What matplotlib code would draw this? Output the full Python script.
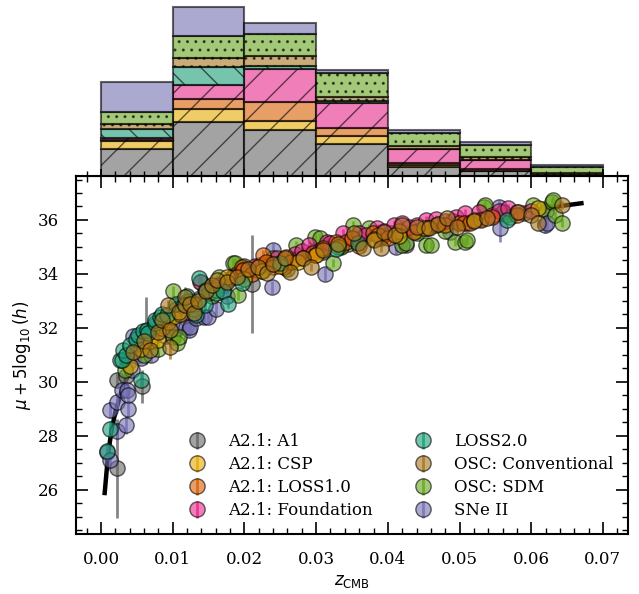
import matplotlib
matplotlib.use('Agg')
import matplotlib.pyplot as plt
from matplotlib.colors import to_rgba
from matplotlib.ticker import MultipleLocator, FormatStrFormatter
import numpy as np

plt.rcParams['font.family'] = 'serif'
plt.rcParams['font.size'] = 12
plt.rcParams['hatch.linewidth'] = 1.0

LABELS = ['A2.1: A1', 'A2.1: CSP', 'A2.1: LOSS1.0', 'A2.1: Foundation',
          'LOSS2.0', 'OSC: Conventional', 'OSC: SDM', 'SNe II']
COLORS = ['#666666', '#e6ab02', '#d95f02', '#e7298a',
          '#1b9e77', '#a6761d', '#66a61e', '#7570b3']
HATCHES = ['/', '/', '/', '/', '\\', '..', '..', '']

# redshift bins of the top histogram
bin_edges = [0.0, 0.01, 0.02, 0.03, 0.04, 0.05, 0.06, 0.07]
counts_a1 = [20, 40, 34, 24, 7, 4, 1]
counts_csp = [6, 10, 7, 6, 1, 0, 0]
counts_loss1 = [1, 7, 14, 6, 2, 1, 0]
counts_found = [1, 11, 25, 18, 10, 7, 0]
counts_loss2 = [7, 13, 2, 2, 0, 0, 0]
counts_conv = [4, 7, 7, 3, 2, 2, 1]
counts_sdm = [9, 16, 17, 18, 10, 9, 5]
counts_sne2 = [22, 22, 8, 2, 2, 2, 1]

# Hubble diagram points: z_CMB, mu + 5log10(h), error
pts_a1 = np.array([
    [0.0022, 26.80, 1.84], [0.0022, 30.07, 0.25], [0.0035, 30.20, 0.30],
    [0.0045, 30.90, 0.30], [0.0048, 31.10, 0.35], [0.0057, 29.83, 0.60],
    [0.0062, 31.90, 1.23], [0.0070, 31.70, 0.30], [0.0075, 32.10, 0.25],
    [0.0082, 31.95, 0.25], [0.0090, 32.30, 0.20], [0.0095, 32.00, 0.20],
    [0.0105, 32.70, 0.20], [0.0117, 32.48, 1.05], [0.0125, 33.00, 0.20],
    [0.0130, 32.70, 0.20], [0.0138, 33.10, 0.20], [0.0145, 33.40, 0.20],
    [0.0150, 33.50, 0.20], [0.0161, 33.55, 0.18], [0.0172, 33.60, 0.20],
    [0.0178, 33.80, 0.20], [0.0185, 33.95, 0.20], [0.0198, 34.00, 0.20],
    [0.0205, 34.10, 0.20], [0.0210, 33.62, 1.82], [0.0225, 34.20, 0.20],
    [0.0232, 34.30, 0.18], [0.0240, 34.40, 0.18], [0.0258, 34.35, 0.15],
    [0.0268, 34.50, 0.15], [0.0275, 34.60, 0.15], [0.0292, 34.75, 0.15],
    [0.0300, 34.90, 0.15], [0.0310, 34.80, 0.15], [0.0335, 35.05, 0.15],
    [0.0345, 35.10, 0.15], [0.0360, 35.20, 0.15], [0.0390, 35.35, 0.15],
    [0.0405, 35.50, 0.15], [0.0420, 35.55, 0.15], [0.0440, 35.60, 0.15],
    [0.0455, 35.70, 0.15], [0.0490, 35.95, 0.15], [0.0510, 35.90, 0.15],
    [0.0530, 36.05, 0.15], [0.0565, 36.20, 0.15], [0.0590, 36.25, 0.15],
    [0.0620, 36.35, 0.15],
])
pts_csp = np.array([
    [0.0040, 30.60, 0.25], [0.0055, 31.20, 0.25], [0.0068, 31.50, 0.20],
    [0.0080, 31.56, 0.20], [0.0085, 32.00, 0.20], [0.0092, 32.30, 0.20],
    [0.0094, 32.23, 0.20], [0.0100, 32.40, 0.20], [0.0110, 32.50, 0.20],
    [0.0120, 32.95, 0.20], [0.0130, 32.90, 0.18], [0.0160, 33.40, 0.18],
    [0.0175, 33.90, 0.18], [0.0200, 33.80, 0.15], [0.0225, 34.10, 0.15],
    [0.0250, 34.30, 0.15], [0.0275, 34.45, 0.15], [0.0300, 34.70, 0.15],
    [0.0330, 35.00, 0.15], [0.0380, 35.30, 0.15], [0.0415, 35.40, 0.15],
    [0.0450, 35.70, 0.15], [0.0520, 36.00, 0.15], [0.0610, 36.43, 0.15],
])
pts_loss1 = np.array([
    [0.0105, 32.70, 0.20], [0.0150, 33.30, 0.20], [0.0185, 33.90, 0.18],
    [0.0196, 34.27, 0.18], [0.0198, 34.15, 0.18], [0.0210, 34.00, 0.18],
    [0.0221, 34.33, 0.18], [0.0226, 34.70, 0.18], [0.0230, 34.45, 0.15],
    [0.0240, 34.25, 0.15], [0.0255, 34.25, 0.15], [0.0258, 34.64, 0.15],
    [0.0265, 34.45, 0.15], [0.0281, 34.58, 0.15], [0.0295, 34.78, 0.15],
    [0.0298, 34.70, 0.15], [0.0310, 34.95, 0.15], [0.0328, 35.20, 0.15],
    [0.0342, 35.20, 0.15], [0.0350, 35.35, 0.15], [0.0360, 35.05, 0.15],
    [0.0379, 35.50, 0.15], [0.0386, 35.44, 0.15], [0.0400, 35.35, 0.15],
    [0.0415, 35.60, 0.15], [0.0437, 35.57, 0.15], [0.0455, 35.70, 0.15],
    [0.0467, 35.81, 0.15], [0.0480, 35.80, 0.15], [0.0499, 35.88, 0.15],
    [0.0506, 35.88, 0.15], [0.0515, 35.88, 0.15], [0.0530, 36.00, 0.15],
    [0.0545, 36.12, 0.15], [0.0580, 36.20, 0.15],
])
pts_found = np.array([
    [0.0138, 33.70, 0.18], [0.0165, 33.60, 0.18], [0.0190, 34.00, 0.18],
    [0.0200, 34.20, 0.18], [0.0215, 34.30, 0.15], [0.0235, 34.40, 0.15],
    [0.0245, 34.60, 0.15], [0.0255, 34.50, 0.15], [0.0270, 34.75, 0.15],
    [0.0280, 34.85, 0.15], [0.0290, 35.07, 0.15], [0.0305, 34.90, 0.15],
    [0.0315, 35.20, 0.15], [0.0320, 35.15, 0.15], [0.0337, 35.50, 0.15],
    [0.0350, 35.30, 0.15], [0.0360, 35.50, 0.15], [0.0370, 35.45, 0.15],
    [0.0385, 35.70, 0.15], [0.0395, 35.60, 0.15], [0.0409, 35.81, 0.15],
    [0.0420, 35.90, 0.15], [0.0430, 35.75, 0.15], [0.0440, 35.80, 0.15],
    [0.0453, 36.00, 0.15], [0.0467, 36.05, 0.15], [0.0480, 35.95, 0.15],
    [0.0495, 36.10, 0.15], [0.0508, 36.25, 0.15], [0.0527, 36.31, 0.15],
    [0.0545, 36.20, 0.15], [0.0555, 36.35, 0.15], [0.0568, 36.43, 0.15],
    [0.0580, 36.30, 0.15], [0.0600, 36.35, 0.15],
])
pts_loss2 = np.array([
    [0.0008, 27.42, 0.30], [0.0012, 28.26, 0.30], [0.0027, 30.81, 0.25],
    [0.0029, 30.81, 0.25], [0.0031, 31.19, 0.25], [0.0035, 31.00, 0.25],
    [0.0041, 31.37, 0.25], [0.0048, 31.60, 0.25], [0.0052, 31.74, 0.20],
    [0.0055, 30.07, 0.25], [0.0058, 31.90, 0.20], [0.0064, 31.93, 0.20],
    [0.0066, 31.80, 0.20], [0.0075, 32.17, 0.20], [0.0075, 32.30, 0.20],
    [0.0082, 32.40, 0.20], [0.0085, 32.50, 0.20], [0.0092, 32.48, 0.20],
    [0.0105, 32.90, 0.20], [0.0115, 32.90, 0.20], [0.0120, 33.20, 0.20],
    [0.0133, 32.48, 0.20], [0.0136, 33.84, 0.18], [0.0145, 32.85, 0.18],
    [0.0147, 33.40, 0.18], [0.0160, 33.30, 0.18], [0.0170, 33.35, 0.18],
    [0.0177, 32.90, 0.18], [0.0196, 33.65, 0.18], [0.0250, 34.40, 0.15],
    [0.0328, 34.92, 0.15], [0.0358, 35.14, 0.15], [0.0566, 36.00, 0.15],
])
pts_conv = np.array([
    [0.0045, 31.12, 0.25], [0.0060, 31.50, 0.25], [0.0068, 31.19, 0.25],
    [0.0080, 31.86, 0.20], [0.0085, 32.30, 0.20], [0.0094, 32.85, 0.20],
    [0.0096, 31.93, 0.20], [0.0096, 31.31, 0.45], [0.0108, 32.60, 0.20],
    [0.0117, 32.85, 0.20], [0.0117, 33.16, 0.20], [0.0124, 32.90, 0.20],
    [0.0129, 32.54, 0.20], [0.0135, 33.00, 0.20], [0.0147, 33.35, 0.18],
    [0.0155, 33.60, 0.18], [0.0161, 33.78, 0.18], [0.0175, 33.70, 0.18],
    [0.0190, 33.90, 0.18], [0.0205, 34.20, 0.15], [0.0219, 34.27, 0.15],
    [0.0231, 34.03, 0.15], [0.0240, 34.35, 0.15], [0.0256, 34.58, 0.15],
    [0.0263, 34.09, 0.15], [0.0281, 34.60, 0.15], [0.0293, 34.27, 0.15],
    [0.0309, 34.90, 0.15], [0.0330, 35.10, 0.15], [0.0353, 35.50, 0.15],
    [0.0365, 34.95, 0.15], [0.0381, 35.26, 0.15], [0.0390, 34.95, 0.15],
    [0.0395, 35.57, 0.15], [0.0410, 35.45, 0.15], [0.0420, 35.81, 0.15],
    [0.0441, 35.75, 0.15], [0.0457, 35.69, 0.15], [0.0470, 35.85, 0.15],
    [0.0483, 36.06, 0.15], [0.0497, 35.75, 0.15], [0.0520, 35.95, 0.15],
    [0.0538, 36.06, 0.15], [0.0582, 36.31, 0.15], [0.0600, 36.20, 0.15],
    [0.0610, 35.88, 0.15], [0.0643, 36.56, 0.15],
])
pts_sdm = np.array([
    [0.0034, 30.44, 0.30], [0.0060, 31.00, 0.25], [0.0080, 31.20, 0.25],
    [0.0101, 33.35, 0.20], [0.0101, 31.68, 0.20], [0.0106, 31.43, 0.20],
    [0.0108, 31.68, 0.20], [0.0120, 33.00, 0.20], [0.0130, 32.70, 0.20],
    [0.0140, 33.70, 0.18], [0.0155, 33.20, 0.18], [0.0165, 33.90, 0.18],
    [0.0184, 34.40, 0.18], [0.0187, 34.40, 0.18], [0.0191, 33.22, 0.18],
    [0.0200, 34.30, 0.15], [0.0225, 34.10, 0.15], [0.0240, 34.60, 0.15],
    [0.0260, 34.20, 0.15], [0.0272, 35.07, 0.15], [0.0298, 35.38, 0.15],
    [0.0305, 35.32, 0.15], [0.0323, 34.40, 0.15], [0.0335, 35.00, 0.15],
    [0.0351, 35.81, 0.15], [0.0374, 35.69, 0.15], [0.0390, 35.40, 0.15],
    [0.0420, 35.07, 0.15], [0.0425, 35.14, 0.15], [0.0440, 35.50, 0.15],
    [0.0453, 35.07, 0.15], [0.0460, 35.07, 0.15], [0.0480, 35.60, 0.15],
    [0.0494, 35.20, 0.15], [0.0508, 35.20, 0.15], [0.0510, 35.26, 0.15],
    [0.0534, 36.49, 0.15], [0.0536, 36.56, 0.15], [0.0560, 36.30, 0.15],
    [0.0570, 36.10, 0.15], [0.0603, 36.56, 0.15], [0.0615, 36.40, 0.15],
    [0.0629, 36.68, 0.15], [0.0631, 36.74, 0.15], [0.0633, 36.19, 0.15],
    [0.0643, 35.88, 0.15],
])
pts_sne2 = np.array([
    [0.0008, 27.40, 0.30], [0.0013, 27.10, 0.30], [0.0013, 28.96, 0.30],
    [0.0022, 28.16, 0.30], [0.0022, 29.27, 0.30], [0.0029, 29.70, 0.30],
    [0.0035, 28.40, 0.35], [0.0036, 29.70, 0.30], [0.0038, 29.00, 0.30],
    [0.0038, 29.50, 0.30], [0.0038, 30.70, 0.30], [0.0041, 30.80, 0.25],
    [0.0043, 30.44, 0.25], [0.0045, 31.70, 0.25], [0.0055, 30.90, 0.25],
    [0.0060, 31.40, 0.25], [0.0070, 31.00, 0.25], [0.0090, 31.70, 0.25],
    [0.0105, 31.95, 0.25], [0.0119, 32.05, 0.30], [0.0122, 31.93, 0.25],
    [0.0124, 32.05, 0.25], [0.0133, 32.36, 0.25], [0.0143, 32.40, 0.25],
    [0.0149, 32.42, 0.25], [0.0160, 32.70, 0.25], [0.0175, 33.20, 0.25],
    [0.0238, 33.50, 0.25], [0.0240, 34.90, 0.25], [0.0312, 34.00, 0.25],
    [0.0411, 35.00, 0.25], [0.0425, 35.07, 0.25], [0.0487, 35.57, 0.25],
    [0.0555, 36.49, 0.25], [0.0557, 35.69, 0.50], [0.0619, 35.80, 0.30],
    [0.0622, 35.88, 0.25],
])

# reference Hubble-law curve
curve_z = [0.0005, 0.001, 0.0015, 0.002, 0.003, 0.004, 0.005, 0.0065, 0.008,
           0.01, 0.0125, 0.015, 0.02, 0.025, 0.03, 0.035, 0.04, 0.045, 0.05,
           0.055, 0.06, 0.067]
curve_mu = [25.88, 27.38, 28.26, 28.89, 29.77, 30.39, 30.88, 31.45, 31.91,
            32.40, 32.89, 33.28, 33.92, 34.41, 34.82, 35.16, 35.46, 35.73,
            35.96, 36.18, 36.37, 36.62]

counts = [counts_a1, counts_csp, counts_loss1, counts_found,
          counts_loss2, counts_conv, counts_sdm, counts_sne2]
points = [pts_a1, pts_csp, pts_loss1, pts_found,
          pts_loss2, pts_conv, pts_sdm, pts_sne2]
# drawing order of the scatter series (legend keeps LABELS order)
draw_order = [0, 7, 6, 3, 2, 1, 4, 5]

W, H = 639, 594
fig = plt.figure(figsize=(W / 100, H / 100), dpi=100)
ax = fig.add_axes([76 / W, 1 - 534 / H, 552 / W, 358 / H])
ax_hist = fig.add_axes([76 / W, 1 - 176 / H, 552 / W, 176 / H], sharex=ax)

# stacked histogram
widths = np.diff(bin_edges)
bottom = np.zeros(len(widths))
for c, col, hat in zip(counts, COLORS, HATCHES):
    ax_hist.bar(bin_edges[:-1], c, width=widths, bottom=bottom, align='edge',
                color=col, edgecolor='k', hatch=hat, alpha=0.6, linewidth=1.5)
    bottom += np.array(c)
ax_hist.set_ylim(0, 131)
for s in ('left', 'top', 'right'):
    ax_hist.spines[s].set_visible(False)
ax_hist.spines['bottom'].set_linewidth(1.5)
ax_hist.tick_params(axis='x', which='both', direction='in', labelbottom=False)
ax_hist.tick_params(axis='x', which='major', length=5, width=1.2)
ax_hist.tick_params(axis='x', which='minor', length=3.5, width=1.0)
ax_hist.set_yticks([])

# Hubble diagram
ax.plot(curve_z, curve_mu, color='k', lw=3.2, zorder=1)
handles = [None] * len(LABELS)
for i in draw_order:
    p = points[i]
    handles[i] = ax.errorbar(p[:, 0], p[:, 1], yerr=p[:, 2], fmt='o',
                             mfc=to_rgba(COLORS[i], 0.6), mec=(0, 0, 0, 0.6),
                             ecolor=to_rgba(COLORS[i], 0.8), mew=1.0, ms=11,
                             elinewidth=2.0, zorder=2)

ax.legend(handles, LABELS, ncol=2, frameon=False, loc='lower right',
          fontsize=12, labelspacing=0.36, columnspacing=2.0,
          handletextpad=0.85)

ax.set_xlim(-0.0035, 0.0735)
ax.set_ylim(24.36, 37.63)
ax.xaxis.set_major_locator(MultipleLocator(0.01))
ax.xaxis.set_minor_locator(MultipleLocator(0.002))
ax.yaxis.set_major_locator(MultipleLocator(2))
ax.yaxis.set_minor_locator(MultipleLocator(0.5))
ax.xaxis.set_major_formatter(FormatStrFormatter('%.2f'))
ax.tick_params(which='both', direction='in', top=True, right=True, pad=12)
ax.tick_params(which='major', length=8.5, width=1.2)
ax.tick_params(which='minor', length=4.5, width=1.0)
for s in ax.spines.values():
    s.set_linewidth(1.5)
ax.set_xlabel(r'$z_{\rm CMB}$')
ax.set_ylabel(r'$\mu + 5\log_{10}(h)$')

fig.savefig('out.png', dpi=100)
